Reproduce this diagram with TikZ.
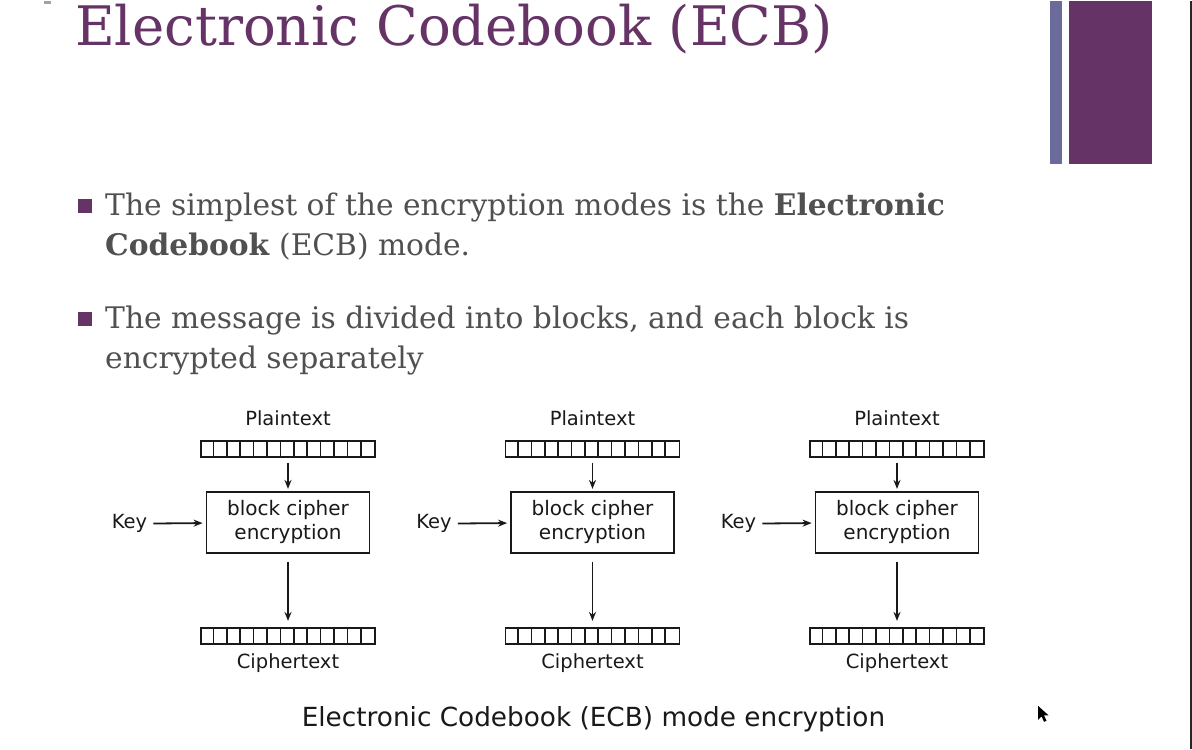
\documentclass[tikz,border=0pt]{standalone}
\usepackage{fontspec}
\setmainfont{DejaVu Serif}
\newfontfamily\diagfont{DejaVu Sans}
\usetikzlibrary{arrows.meta}

\definecolor{plum}{RGB}{102,51,102}
\definecolor{slate}{RGB}{107,107,155}
\definecolor{bodygray}{RGB}{80,80,80}
\definecolor{ink}{RGB}{25,25,25}

\begin{document}
\begin{tikzpicture}[x=1pt,y=-1pt,
  titletext/.style={anchor=base west,inner sep=0,text=plum,font=\fontsize{54.5}{64}\selectfont},
  bodyline/.style={anchor=base west,inner sep=0,text=bodygray,font=\fontsize{29.7}{34}\selectfont},
  bulletsq/.style={fill=plum,inner sep=0,minimum size=14pt},
  dlabel/.style={inner sep=0,text=ink,font=\diagfont\fontsize{19.5}{23}\selectfont},
  cellrow/.style={draw=ink,line width=1.8pt,inner sep=0,minimum width=174pt,minimum height=16pt},
  cipherbox/.style={draw=ink,line width=1.8pt,inner sep=0,minimum width=163pt,minimum height=61pt,
    align=center,text=ink,font=\diagfont\fontsize{20}{24}\selectfont},
  divider/.style={draw=ink,line width=1.6pt},
  arr/.style={draw=ink,line width=1.8pt,-{Stealth[length=9pt,width=7pt]}},
]
% canvas
\fill[white] (0,0) rectangle (1192,748);

% decorative bars and frame edge
\fill[slate] (1050,0) rectangle (1062,163);
\fill[plum] (1069,0) rectangle (1152,163);
\draw[black!85,line width=1.6pt] (1190.7,0) -- (1190.7,748);
\fill[plum!50] (44,0) rectangle (51,3);

% title
\node[titletext] (title) at (75,45) {Electronic Codebook (ECB)};

% bullet points
\node[bulletsq] (bul1) at (85,205) {};
\node[bodyline] (t1a) at (105,215) {The simplest of the encryption modes is the \textbf{Electronic}};
\node[bodyline] (t1b) at (105,255) {\textbf{Codebook} (ECB) mode.};
\node[bulletsq] (bul2) at (85,318) {};
\node[bodyline] (t2a) at (105,328) {The message is divided into blocks, and each block is};
\node[bodyline] (t2b) at (105,368) {encrypted separately};

% three ECB encryption stages
\foreach \i/\cx in {1/288,2/592.5,3/897}{
  \node[dlabel,anchor=base] (pt\i) at (\cx,425) {Plaintext};
  \node[cellrow] (prow\i) at (\cx,448) {};
  \foreach \k in {1,...,12}
    \draw[divider] ([xshift=\k*174/13 pt]prow\i.north west) -- ([xshift=\k*174/13 pt]prow\i.south west);
  \node[cipherbox] (enc\i) at (\cx,521.5) {block cipher\\encryption};
  \node[dlabel,anchor=base] (key\i) at (\cx-158.5,528) {Key};
  \node[cellrow] (crow\i) at (\cx,635) {};
  \foreach \k in {1,...,12}
    \draw[divider] ([xshift=\k*174/13 pt]crow\i.north west) -- ([xshift=\k*174/13 pt]crow\i.south west);
  \node[dlabel,anchor=base] (ct\i) at (\cx,668) {Ciphertext};
  \draw[arr,shorten <=5pt,shorten >=2pt] (prow\i) -- (enc\i);
  \draw[arr,shorten <=6pt,shorten >=3pt] (key\i) -- (enc\i);
  \draw[arr,shorten <=8pt,shorten >=6pt] (enc\i) -- (crow\i);
}

% caption
\node[dlabel,anchor=base,font=\diagfont\fontsize{26.3}{31}\selectfont] (caption) at (593.5,726) {Electronic Codebook (ECB) mode encryption};

% pointer
\fill[black] (1038,705) -- (1038,719) -- (1041.5,715.5) -- (1044,721) -- (1046.5,720) -- (1044,714.5) -- (1048.5,714.5) -- cycle;
\end{tikzpicture}
\end{document}
